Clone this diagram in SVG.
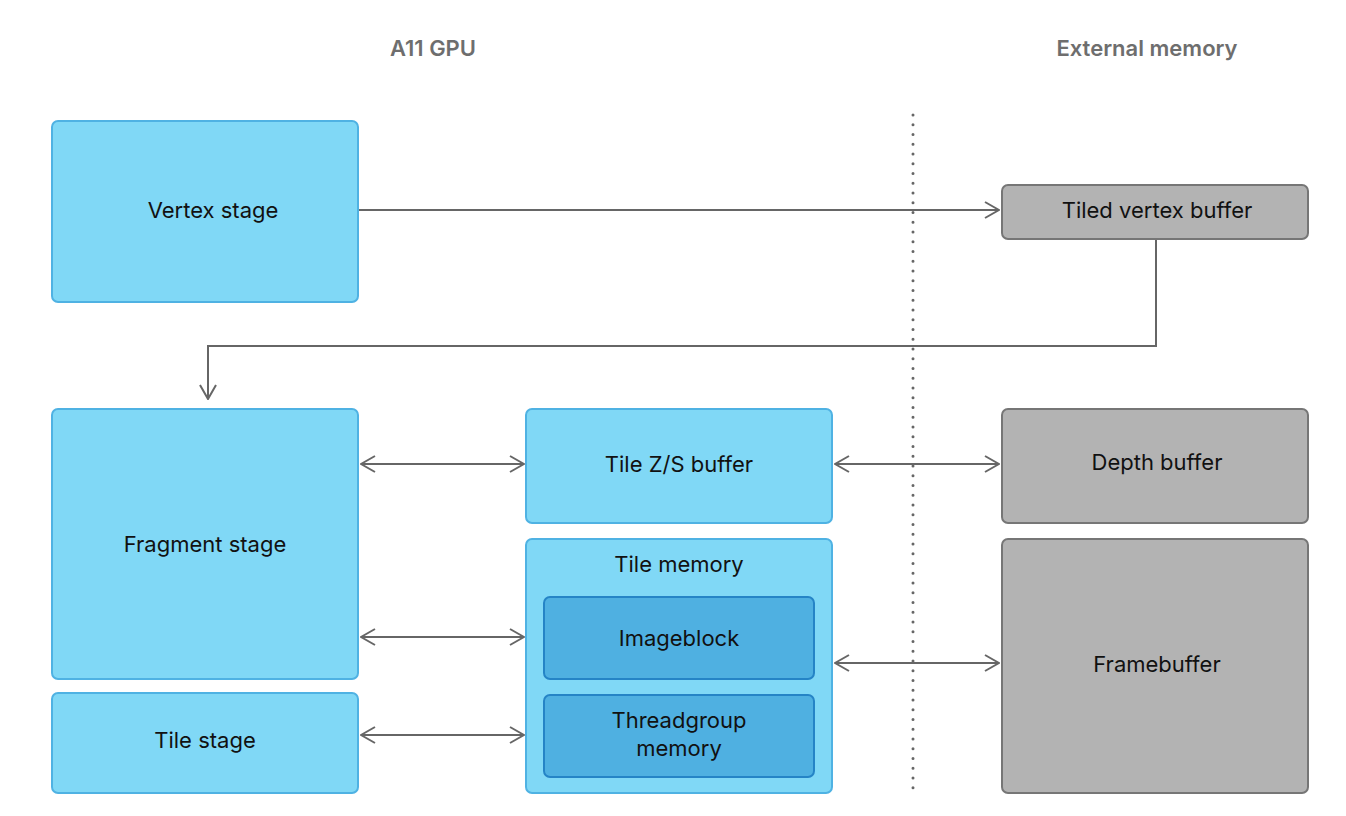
<svg xmlns="http://www.w3.org/2000/svg" width="1346" height="816" viewBox="0 0 1346 816">
<defs>
<style>
.blue{fill:#80d8f6;stroke:#4fb2e3;stroke-width:2}
.dblue{fill:#4fb0e1;stroke:#2584c6;stroke-width:2}
.gray{fill:#b3b3b3;stroke:#767676;stroke-width:2}
.t{font-family:Inter,"Liberation Sans",sans-serif;font-size:22px;fill:#111;text-anchor:middle;dominant-baseline:central}
.h{font-family:Inter,"Liberation Sans",sans-serif;font-size:22px;font-weight:600;fill:#6e6e6e;text-anchor:middle}
.c{fill:none;stroke:#666;stroke-width:2}
</style>
<marker id="ah" viewBox="0 0 16 18" refX="15" refY="9" markerWidth="16" markerHeight="18" markerUnits="userSpaceOnUse" orient="auto-start-reverse">
<path d="M1,1 L15,9 L1,17" fill="none" stroke="#666" stroke-width="2"/>
</marker>
</defs>
<rect width="1346" height="816" fill="#fff"/>
<text class="h" x="433" y="56">A11 GPU</text>
<text class="h" x="1147" y="56">External memory</text>
<line x1="913" y1="115" x2="913" y2="797" stroke="#666" stroke-width="3" stroke-linecap="round" stroke-dasharray="0 9.75"/>
<g id="connectors">
<path class="c" d="M358,210 H999" marker-end="url(#ah)"/>
<path class="c" d="M1156,239 V346 H208 V399" marker-end="url(#ah)"/>
<path class="c" d="M361,464 H524" marker-start="url(#ah)" marker-end="url(#ah)"/>
<path class="c" d="M835,464 H999" marker-start="url(#ah)" marker-end="url(#ah)"/>
<path class="c" d="M361,637 H524" marker-start="url(#ah)" marker-end="url(#ah)"/>
<path class="c" d="M361,735 H524" marker-start="url(#ah)" marker-end="url(#ah)"/>
<path class="c" d="M835,663 H999" marker-start="url(#ah)" marker-end="url(#ah)"/>
</g>
<g id="vertex"><rect class="blue" x="52" y="121" width="306" height="181" rx="6"/><text class="t" x="213" y="210">Vertex stage</text></g>
<g id="tiledvb"><rect class="gray" x="1002" y="185" width="306" height="54" rx="6"/><text class="t" x="1157" y="210">Tiled vertex buffer</text></g>
<g id="fragment"><rect class="blue" x="52" y="409" width="306" height="270" rx="6"/><text class="t" x="205" y="544">Fragment stage</text></g>
<g id="tilestage"><rect class="blue" x="52" y="693" width="306" height="100" rx="6"/><text class="t" x="205" y="740">Tile stage</text></g>
<g id="tilezs"><rect class="blue" x="526" y="409" width="306" height="114" rx="6"/><text class="t" x="679" y="464">Tile Z/S buffer</text></g>
<g id="tilemem"><rect class="blue" x="526" y="539" width="306" height="254" rx="6"/><text class="t" x="679" y="564">Tile memory</text></g>
<g id="imageblock"><rect class="dblue" x="544" y="597" width="270" height="82" rx="6"/><text class="t" x="679" y="638">Imageblock</text></g>
<g id="threadgroup"><rect class="dblue" x="544" y="695" width="270" height="82" rx="6"/><text class="t" x="679" y="720">Threadgroup</text><text class="t" x="679" y="748">memory</text></g>
<g id="depth"><rect class="gray" x="1002" y="409" width="306" height="114" rx="6"/><text class="t" x="1157" y="462">Depth buffer</text></g>
<g id="framebuffer"><rect class="gray" x="1002" y="539" width="306" height="254" rx="6"/><text class="t" x="1157" y="664">Framebuffer</text></g>
</svg>
